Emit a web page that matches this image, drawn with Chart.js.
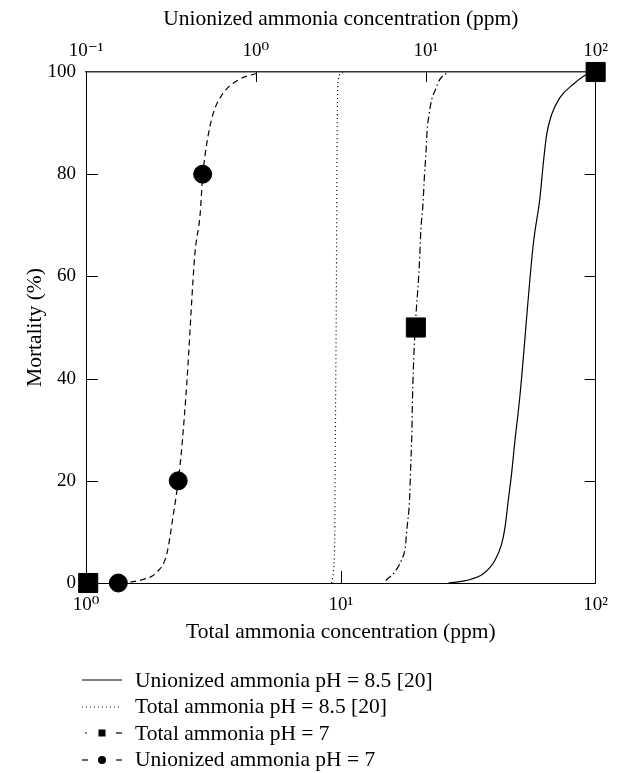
<!DOCTYPE html>
<html>
<head>
<meta charset="utf-8">
<script src="https://cdn.jsdelivr.net/npm/chart.js@4.4.1/dist/chart.umd.min.js"></script>
<style>
  html, body { margin: 0; padding: 0; background: #fff; }
  #wrap { position: relative; width: 619px; height: 773px; }
  #chart { position: absolute; left: 0; top: 0; }
  #legend { position: absolute; left: 80px; top: 667px; font-family: 'Liberation Serif', 'DejaVu Serif', serif; font-size: 21.5px; color: #000; }
  #legend .row { height: 26.5px; display: flex; align-items: center; white-space: nowrap; }
  #legend svg { width: 44px; height: 20px; margin-right: 11px; flex: none; }
</style>
</head>
<body>
<div id="wrap">
  <canvas id="chart" width="619" height="773"></canvas>
  <div id="legend"></div>
</div>
<script>
// ---------------- data ----------------
// Unionized ammonia pH = 8.5 [20] (top axis, unionized ppm)
const unionized85Conc = [13.6, 17.4, 21.8, 25.6, 28.0, 29.3, 30.6, 32.0, 33.5, 35.8, 42.9, 47.0, 49.1, 51.5, 55.1, 61.6, 73.8, 88.5, 100];
const unionized85Mort = [0, 0.5, 1.8, 4.5, 7.7, 11.0, 16.2, 21.4, 27.9, 36.5, 66.2, 75.4, 81.9, 87.8, 91.7, 95.0, 97.6, 99.5, 100];

// Total ammonia pH = 8.5 [20] (bottom axis, total ppm)
const total85Conc = [9.21, 9.36, 9.46, 9.51, 9.60, 9.68, 9.77, 10.17];
const total85Mort = [0, 2.5, 8.4, 26, 55.4, 90, 98.5, 100];

// Total ammonia pH = 7, fitted curve (bottom axis)
const total7FitConc = [15.0, 16.3, 17.3, 17.9, 18.2, 18.6, 18.8, 19.0, 19.1, 20.4, 20.6, 21.0, 21.3, 21.6, 21.8, 22.2, 22.7, 23.4, 24.5, 26.2];
const total7FitMort = [0.5, 2.2, 4.5, 7.0, 10.9, 16.2, 22.7, 29.3, 35.8, 63.9, 68.9, 74.1, 79.9, 84.5, 88.4, 91.7, 94.5, 96.3, 98.6, 99.9];
// Total ammonia pH = 7, observed points
const total7Conc = [1.02, 19.7, 100];
const total7Mort = [0, 50, 100];

// Unionized ammonia pH = 7, fitted curve (top axis)
const unionized7FitConc = [0.182, 0.217, 0.261, 0.299, 0.327, 0.349, 0.366, 0.392, 0.438, 0.469, 0.486, 0.501, 0.525, 0.562, 0.643, 0.805, 1.03];
const unionized7FitMort = [0.2, 0.7, 2.1, 5.7, 13.5, 20, 26.4, 39.1, 64.6, 71.9, 79.6, 83.5, 87.8, 92.0, 95.9, 98.6, 99.8];
// Unionized ammonia pH = 7, observed points
const unionized7Conc = [0.155, 0.349, 0.486];
const unionized7Mort = [0, 20, 80];

// axis ticks
const totalTicks = [1, 10, 100];
const totalTickLabels = ['10\u2070', '10\u00B9', '10\u00B2'];
const unionizedTicks = [0.1, 1, 10, 100];
const unionizedTickLabels = ['10\u207B\u00B9', '10\u2070', '10\u00B9', '10\u00B2'];
const mortalityTicks = [0, 20, 40, 60, 80, 100];

const seriesNames = [
  'Unionized ammonia pH = 8.5 [20]',
  'Total ammonia pH = 8.5 [20]',
  'Total ammonia pH = 7',
  'Unionized ammonia pH = 7'
];

// ---------------- chart ----------------
const FONT = "'Liberation Serif', 'DejaVu Serif', serif";
const TICK_FONT = { family: FONT, size: 19 };
const TITLE_FONT = { family: FONT, size: 21.5 };
const pts = (xs, ys) => xs.map((x, i) => ({ x: x, y: ys[i] }));
const lineBase = { borderColor: '#000', borderWidth: 1.2, pointRadius: 0, fill: false, cubicInterpolationMode: 'monotone' };

const inwardTicks = {
  id: 'inwardTicks',
  afterDraw(chart) {
    const { ctx, chartArea: a, scales } = chart;
    ctx.save();
    ctx.strokeStyle = '#000';
    ctx.lineWidth = 1;
    const seg = (x1, y1, x2, y2) => { ctx.beginPath(); ctx.moveTo(x1, y1); ctx.lineTo(x2, y2); ctx.stroke(); };
    mortalityTicks.forEach(v => {
      if (v <= 0 || v >= 100) return;
      const py = Math.round(scales.y.getPixelForValue(v)) + 0.5;
      seg(a.left, py, a.left + 12, py);
      seg(a.right - 11, py, a.right, py);
    });
    totalTicks.forEach(v => {
      if (v <= 1 || v >= 100) return;
      const px = Math.round(scales.x.getPixelForValue(v)) + 0.5;
      seg(px, a.bottom, px, a.bottom - 12);
    });
    unionizedTicks.forEach(v => {
      if (v <= 0.1 || v >= 100) return;
      const px = Math.round(scales.x2.getPixelForValue(v)) + 0.5;
      seg(px, a.top, px, a.top + 10);
    });
    ctx.restore();
  }
};

new Chart(document.getElementById('chart'), {
  type: 'scatter',
  data: {
    datasets: [
      Object.assign({ label: seriesNames[0], xAxisID: 'x2', yAxisID: 'y', data: pts(unionized85Conc, unionized85Mort), showLine: true }, lineBase),
      Object.assign({ label: seriesNames[1], xAxisID: 'x', yAxisID: 'y', data: pts(total85Conc, total85Mort), showLine: true, borderDash: [1, 3] }, lineBase),
      Object.assign({ label: seriesNames[2] + ' (fit)', xAxisID: 'x', yAxisID: 'y', data: pts(total7FitConc, total7FitMort), showLine: true, borderDash: [7, 3, 1.5, 3] }, lineBase),
      Object.assign({ label: seriesNames[3] + ' (fit)', xAxisID: 'x2', yAxisID: 'y', data: pts(unionized7FitConc, unionized7FitMort), showLine: true, borderDash: [6, 4] }, lineBase),
      { label: seriesNames[2], xAxisID: 'x', yAxisID: 'y', data: pts(total7Conc, total7Mort), showLine: false,
        pointStyle: 'rect', pointRadius: 13.5, pointBackgroundColor: '#000', pointBorderColor: '#000', pointBorderWidth: 1, clip: false },
      { label: seriesNames[3], xAxisID: 'x2', yAxisID: 'y', data: pts(unionized7Conc, unionized7Mort), showLine: false,
        pointStyle: 'circle', pointRadius: 9, pointBackgroundColor: '#000', pointBorderColor: '#000', pointBorderWidth: 1, clip: false }
    ]
  },
  options: {
    responsive: false,
    animation: false,
    devicePixelRatio: 1,
    layout: { padding: { left: 0, right: 0, top: 0, bottom: 128 } },
    plugins: { legend: { display: false }, tooltip: { enabled: false } },
    scales: {
      x: {
        type: 'logarithmic', position: 'bottom', min: 1, max: 100,
        afterBuildTicks: s => { s.ticks = totalTicks.map(v => ({ value: v })); },
        afterFit: s => { s.height = 62; },
        ticks: { color: '#000', font: TICK_FONT, padding: 11, maxRotation: 0, autoSkip: false,
                 callback: v => totalTickLabels[totalTicks.indexOf(v)] },
        grid: { display: false, drawTicks: false },
        border: { display: true, color: '#000', width: 1 },
        title: { display: true, text: 'Total ammonia concentration (ppm)', color: '#000', font: TITLE_FONT, padding: { top: 0, bottom: 0 } }
      },
      x2: {
        type: 'logarithmic', position: 'top', min: 0.1, max: 100,
        afterBuildTicks: s => { s.ticks = unionizedTicks.map(v => ({ value: v })); },
        afterFit: s => { s.height = 72; },
        ticks: { color: '#000', font: TICK_FONT, padding: 10, maxRotation: 0, autoSkip: false,
                 callback: v => unionizedTickLabels[unionizedTicks.indexOf(v)] },
        grid: { display: false, drawTicks: false },
        border: { display: true, color: '#333', width: 1.5 },
        title: { display: true, text: 'Unionized ammonia concentration (ppm)', color: '#000', font: TITLE_FONT, padding: { top: 6, bottom: 0 } }
      },
      y: {
        type: 'linear', position: 'left', min: 0, max: 100,
        afterBuildTicks: s => { s.ticks = mortalityTicks.map(v => ({ value: v })); },
        afterFit: s => { s.width = 86; },
        ticks: { color: '#000', font: TICK_FONT, padding: 10 },
        grid: { display: false, drawTicks: false },
        border: { display: true, color: '#000', width: 1 },
        title: { display: true, text: 'Mortality (%)', color: '#000', font: TITLE_FONT, padding: { top: 22, bottom: 0 } }
      },
      y2: {
        type: 'linear', position: 'right', min: 0, max: 100,
        afterFit: s => { s.width = 23; },
        ticks: { display: false },
        grid: { display: false, drawTicks: false },
        border: { display: true, color: '#000', width: 1 }
      }
    }
  },
  plugins: [inwardTicks]
});

// ---------------- legend (HTML) ----------------
const samples = [
  '<line x1="2" y1="10" x2="42" y2="10" stroke="#000" stroke-width="1.2"/>',
  '<line x1="2" y1="10" x2="42" y2="10" stroke="#000" stroke-width="1.2" stroke-dasharray="1 3"/>',
  '<line x1="5" y1="10" x2="7" y2="10" stroke="#000" stroke-width="1.2"/><rect x="18.5" y="6.5" width="7" height="7" fill="#000"/><line x1="36" y1="10" x2="42" y2="10" stroke="#000" stroke-width="1.2"/>',
  '<line x1="2" y1="10" x2="8" y2="10" stroke="#000" stroke-width="1.2"/><circle cx="22" cy="10" r="4" fill="#000"/><line x1="36" y1="10" x2="42" y2="10" stroke="#000" stroke-width="1.2"/>'
];
document.getElementById('legend').innerHTML = seriesNames.map((n, i) =>
  '<div class="row"><svg viewBox="0 0 44 20">' + samples[i] + '</svg><span>' + n + '</span></div>').join('');
</script>
</body>
</html>
